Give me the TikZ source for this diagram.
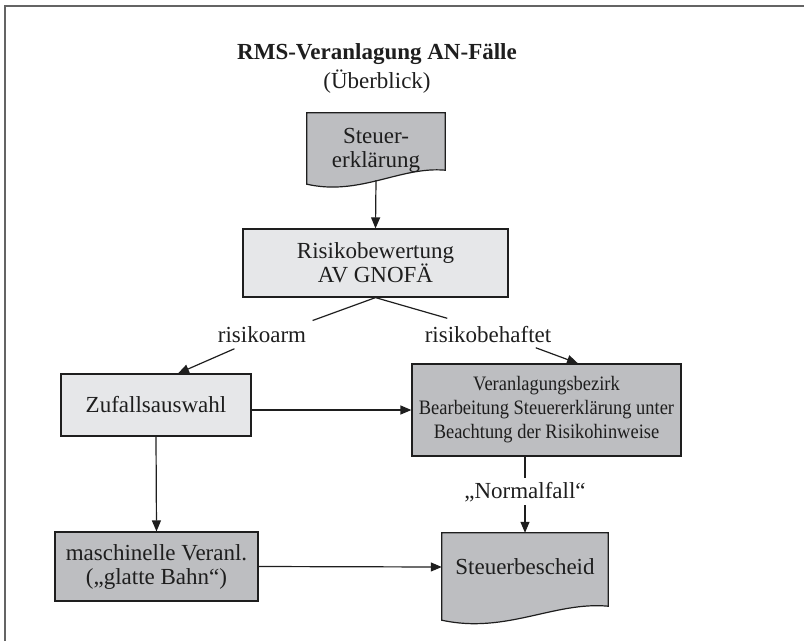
\documentclass[tikz,border=0pt]{standalone}
\usepackage{fontspec}
\setmainfont{Liberation Serif}
\newfontfamily\narrowserif[FakeStretch=0.9]{Liberation Serif}
\usetikzlibrary{arrows.meta,calc,backgrounds}
\definecolor{darkfill}{HTML}{BDBEC1}
\definecolor{lightfill}{HTML}{E6E7E9}
\definecolor{ink}{HTML}{1E1E1E}
\definecolor{framegray}{HTML}{646464}
\begin{document}
\begin{tikzpicture}[x=1pt,y=-1pt,
  txt/.style={font=\fontsize{23}{24}\selectfont, text=ink},
  titletxt/.style={font=\bfseries\fontsize{23}{24}\selectfont, text=ink},
  box/.style={txt, draw=ink, line width=1.2pt, align=center, inner sep=0pt},
  lightbox/.style={box, fill=lightfill},
  darkbox/.style={box, fill=darkfill},
  docnode/.style={txt, align=center, inner sep=0pt},
  docshape/.style={draw=ink, line width=1.2pt, fill=darkfill, line join=miter},
  conn/.style={draw=ink, line width=1.2pt},
  arr/.style={conn, -{Triangle[length=11pt,width=9pt]}},
  lbl/.style={txt, inner sep=3.33pt}]

\useasboundingbox (0,0) rectangle (804,641);
\draw[framegray, line width=2pt] (4.5,641) -- (4.5,5.5) -- (804,5.5);

\node[titletxt, anchor=base] (title) at (377,59) {RMS-Veranlagung AN-Fälle};
\node[txt, anchor=base] (sub) at (377,88) {(Überblick)};

\node[docnode, minimum width=138pt, minimum height=74pt] (se) at (376,150) {Steuer-\\erklärung};
\node[lightbox, minimum width=265pt, minimum height=68pt] (rb) at (375.5,263) {Risikobewertung\\AV GNOFÄ};
\node[lbl, anchor=base] (ra) at (262,342) {risikoarm};
\node[lbl, anchor=base] (rbh) at (488,342) {risikobehaftet};
\node[lightbox, minimum width=190pt, minimum height=62pt] (zw) at (156,405) {Zufallsauswahl};
\node[darkbox, minimum width=269pt, minimum height=92pt, font=\narrowserif\fontsize{20.5}{24}\selectfont] (vb) at (546.5,410) {Veranlagungsbezirk\\Bearbeitung Steuererklärung unter\\Beachtung der Risikohinweise};
\node[darkbox, minimum width=203pt, minimum height=69pt] (mv) at (156.5,566.5) {maschinelle Veranl.\\(„glatte Bahn“)};
\node[docnode, minimum width=166pt, minimum height=68pt] (sb) at (525,567) {Steuerbescheid};
\node[lbl, anchor=base] (nf) at (525,498) {„Normalfall“};

\begin{pgfonlayer}{background}
\path[docshape] (se.north west) -- (se.north east) -- ([yshift=17pt]se.south east) .. controls +(-45,-4) and +(53,12) .. ([yshift=3pt]se.south west) -- cycle;
\path[docshape] (sb.north west) -- (sb.north east) -- ([yshift=-5pt]sb.south east) .. controls +(-54,-5) and +(64,14) .. ([yshift=-19pt]sb.south west) -- cycle;
\end{pgfonlayer}

\draw[arr] ([yshift=7pt]se.south) -- (rb.north);
\draw[conn] (rb.south) -- ([xshift=3pt,yshift=2pt]ra.north east);
\draw[conn] (rb.south) -- ([xshift=26pt,yshift=4pt]rbh.north west);
\draw[arr] ([xshift=20pt,yshift=-3pt]ra.south west) -- ([xshift=22pt]zw.north);
\draw[arr] ([xshift=-19pt,yshift=-2pt]rbh.south east) -- ([xshift=31.5pt]vb.north);
\draw[arr] (zw.east |- vb.west) -- (vb.west);
\draw[arr] (zw.south) -- (mv.north);
\draw[arr] (mv.east) -- (sb.west);
\draw[conn] (vb.south -| sb.north) -- (nf.north);
\draw[arr] (nf.south) -- (sb.north);
\end{tikzpicture}
\end{document}
